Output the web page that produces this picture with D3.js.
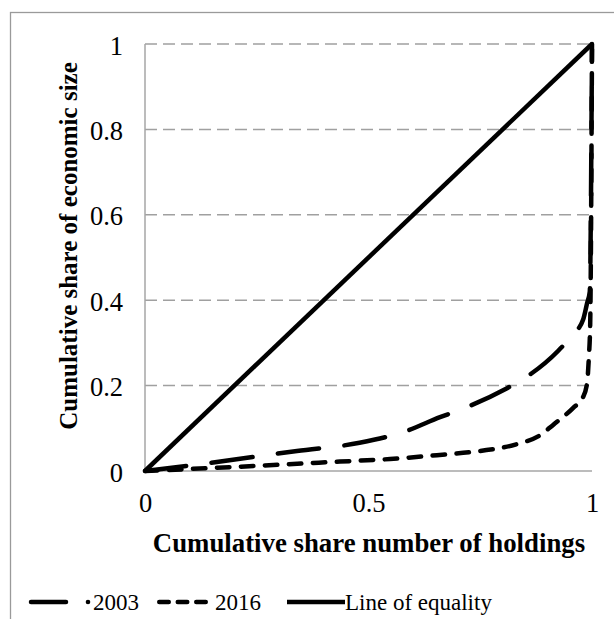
<!DOCTYPE html>
<html>
<head>
<meta charset="utf-8">
<script src="https://cdn.jsdelivr.net/npm/d3@7"></script>
<style>
  body { margin: 0; background: #fff; }
  svg text { font-family: "Liberation Serif", "Times New Roman", serif; fill: #000; }
</style>
</head>
<body>
<div id="chart"></div>
<script>
// values
const x2003 = [0, 0.145, 0.34, 0.48, 0.577, 0.66, 0.716, 0.81, 0.85, 0.924, 0.958, 0.98, 0.989, 0.995, 1];
const y2003 = [0, 0.019, 0.047, 0.066, 0.091, 0.126, 0.148, 0.194, 0.218, 0.281, 0.321, 0.354, 0.393, 0.42, 1];
const x2016 = [0, 0.21, 0.436, 0.548, 0.653, 0.75, 0.832, 0.884, 0.913, 0.958, 0.98, 0.989, 0.993, 0.996, 1];
const y2016 = [0, 0.01, 0.022, 0.028, 0.037, 0.047, 0.063, 0.084, 0.108, 0.148, 0.173, 0.206, 0.267, 0.347, 1];
const xEq = [0, 1];
const yEq = [0, 1];
const xTicks = [0, 0.5, 1];
const yTicks = [0, 0.2, 0.4, 0.6, 0.8, 1];
const seriesNames = ["2003", "2016", "Line of equality"];

const width = 614, height = 619;
const svg = d3.select("#chart").append("svg")
  .attr("width", width)
  .attr("height", height);

// outer frame
svg.append("rect")
  .attr("x", 10.5).attr("y", 12.5)
  .attr("width", 640).attr("height", 640)
  .attr("fill", "none")
  .attr("stroke", "#9a9a9a")
  .attr("stroke-width", 1.3);

const x = d3.scaleLinear().domain([0, 1]).range([145, 592]);
const y = d3.scaleLinear().domain([0, 1]).range([471, 44]);

// gridlines
svg.append("g")
  .selectAll("line")
  .data(yTicks.filter(d => d > 0))
  .enter().append("line")
  .attr("x1", x(0)).attr("x2", x(1))
  .attr("y1", d => y(d)).attr("y2", d => y(d))
  .attr("stroke", "#a0a0a0")
  .attr("stroke-width", 1.5)
  .attr("stroke-dasharray", "12,6");

// axis lines
svg.append("line")
  .attr("x1", x(0)).attr("x2", x(1))
  .attr("y1", y(0)).attr("y2", y(0))
  .attr("stroke", "#a6a6a6").attr("stroke-width", 1.5);
svg.append("line")
  .attr("x1", x(0)).attr("x2", x(0))
  .attr("y1", y(0)).attr("y2", y(1))
  .attr("stroke", "#a6a6a6").attr("stroke-width", 1.5);

// tick labels
const xAxis = svg.append("g")
  .attr("transform", `translate(0,${y(0)})`)
  .call(d3.axisBottom(x).tickValues(xTicks).tickSize(0).tickPadding(0).tickFormat(d3.format("")));
xAxis.select(".domain").remove();
xAxis.selectAll("text")
  .attr("dy", 0).attr("y", 41)
  .style("font-size", "26.5px")
  .style("font-family", "Liberation Serif");

const yAxis = svg.append("g")
  .attr("transform", `translate(${x(0)},0)`)
  .call(d3.axisLeft(y).tickValues(yTicks).tickSize(0).tickPadding(0).tickFormat(d3.format("")));
yAxis.select(".domain").remove();
yAxis.selectAll("text")
  .attr("dy", 0).attr("x", -22).attr("y", 10)
  .style("font-size", "26.5px")
  .style("font-family", "Liberation Serif");

// axis titles
svg.append("text")
  .attr("x", 369).attr("y", 552)
  .attr("text-anchor", "middle")
  .style("font-size", "26.8px")
  .style("font-weight", "bold")
  .text("Cumulative share number of holdings");

svg.append("text")
  .attr("transform", "translate(77,246) rotate(-90)")
  .attr("text-anchor", "middle")
  .style("font-size", "25px")
  .style("font-weight", "bold")
  .text("Cumulative share of economic size");

// lines
const line = d3.line()
  .x(d => x(d[0]))
  .y(d => y(d[1]))
  .curve(d3.curveMonotoneX);

const series = [
  d3.zip(xEq, yEq),
  d3.zip(x2003, y2003),
  d3.zip(x2016, y2016)
];
const seriesDash = [null, "41.5,25.5", "12.5,11.5"];

svg.append("g")
  .selectAll("path")
  .data(series)
  .enter().append("path")
  .attr("d", line)
  .attr("fill", "none")
  .attr("stroke", "#000")
  .attr("stroke-width", 4.5)
  .attr("stroke-linecap", d => d.length > 2 ? "round" : "butt")
  .attr("stroke-linejoin", "round")
  .attr("stroke-dasharray", (d, i) => seriesDash[i]);

// legend
const leg = svg.append("g");
const ly = 602;
leg.append("line")
  .attr("x1", 31).attr("x2", 66).attr("y1", ly).attr("y2", ly)
  .attr("stroke", "#000").attr("stroke-width", 4.5).attr("stroke-linecap", "round");
leg.append("circle")
  .attr("cx", 88).attr("cy", ly).attr("r", 2.3).attr("fill", "#000");
leg.append("text").attr("x", 93).attr("y", 610)
  .style("font-size", "23px").text(seriesNames[0]);

leg.append("line")
  .attr("x1", 159.25).attr("x2", 205.75).attr("y1", ly).attr("y2", ly)
  .attr("stroke", "#000").attr("stroke-width", 4.5).attr("stroke-linecap", "round")
  .attr("stroke-dasharray", "9.5,9");
leg.append("text").attr("x", 215).attr("y", 610)
  .style("font-size", "23px").text(seriesNames[1]);

leg.append("line")
  .attr("x1", 287).attr("x2", 345).attr("y1", ly).attr("y2", ly)
  .attr("stroke", "#000").attr("stroke-width", 4.5);
leg.append("text").attr("x", 345).attr("y", 610)
  .style("font-size", "23px").text(seriesNames[2]);
</script>
</body>
</html>
